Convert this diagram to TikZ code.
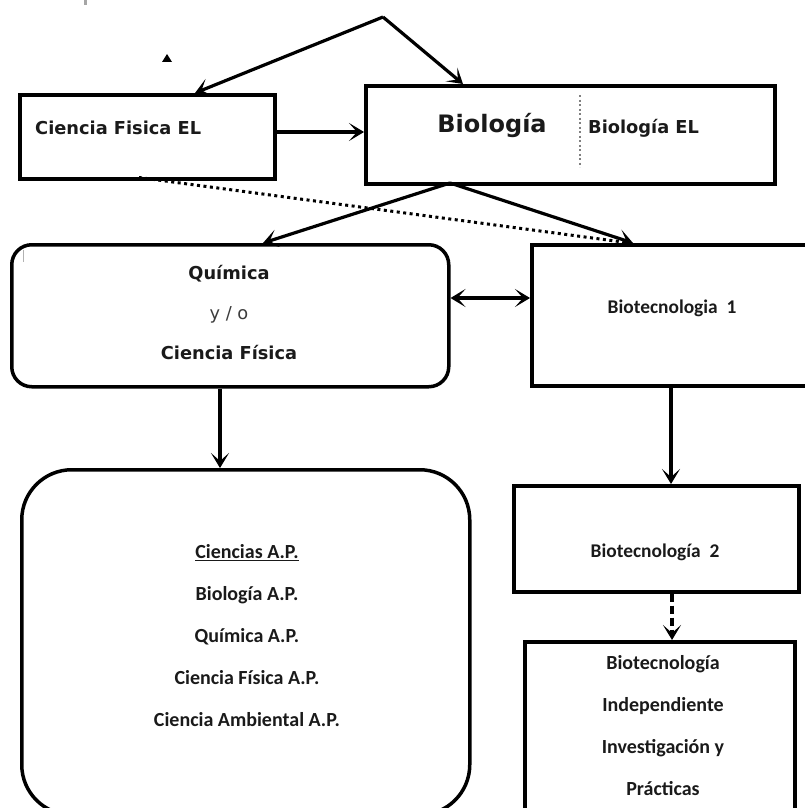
\documentclass[tikz,border=0pt]{standalone}
\usepackage{fontspec}
\setmainfont{DejaVu Sans}
\newfontfamily\djv{DejaVu Sans}
\newfontfamily\clb{Carlito}
\usetikzlibrary{arrows.meta,calc}
\definecolor{ink}{HTML}{1A1A1A}
\tikzset{
  box/.style={draw=black, line width=3.5pt, fill=none, inner sep=0pt, anchor=north west},
  lbl/.style={inner sep=0pt, text=ink, font=\djv\bfseries\fontsize{17.8}{20}\selectfont},
  cal/.style={inner sep=0pt, text=ink, align=center, font=\clb\bfseries\fontsize{20}{42}\selectfont},
  tip/.style={-{Stealth[length=15pt,width=18pt,inset=8pt]}},
  arr/.style={line width=3.2pt, tip},
  darr/.style={line width=3.2pt, {Stealth[length=15pt,width=18pt,inset=8pt]}-{Stealth[length=15pt,width=18pt,inset=8pt]}},
}
\begin{document}
\begin{tikzpicture}[x=1pt,y=-1pt]
\useasboundingbox (0,0) rectangle (805,808);
\clip (0,0) rectangle (805,808);
% small marks
\fill[gray!70] (84,0) rectangle (87,5);
\fill[black] (162,62) -- (172,62) -- (167,54) -- cycle;
% boxes
\node[box, minimum width=255pt, minimum height=84pt] (cfel) at (18,93) {};
\node[lbl, anchor=west] (cfeltxt) at (35,128) {Ciencia Fisica EL};
\node[box, minimum width=409pt, minimum height=98pt] (bio) at (364,84) {};
\node[inner sep=0pt, text=ink, font=\djv\bfseries\fontsize{24}{26}\selectfont] (biotxt) at (492,125) {Biología};
\node[lbl, anchor=west] (bioel) at (588,128) {Biología EL};
\coordinate (dtop) at (580,95);
\coordinate (dbot) at (580,167);
\draw[gray, line width=2.2pt, dash pattern=on 2pt off 2.5pt] (dtop) -- (dbot);
\node[box, rounded corners=20pt, minimum width=437pt, minimum height=142pt] (quim) at (10,243) {};
\node[inner sep=0pt, text=ink, align=center, font=\djv\fontsize{17.8}{40}\selectfont] (quimtxt) at (229,313)
  {\bfseries Química\\ {\color{ink!85}y / o}\\ \bfseries Ciencia Física};
\draw[gray!60, line width=1pt] (23,250) -- (23,262);
\node[box, minimum width=290pt, minimum height=141pt] (bt1) at (530,243) {};
\node[cal, font=\clb\bfseries\fontsize{19.4}{22}\selectfont] (bt1txt) at (672,308) {Biotecnologia\ \ 1};
\node[box, rounded corners=50pt, minimum width=448pt, minimum height=345pt] (ap) at (20,468) {};
\node[cal] (aptxt) at (247,636)
  {\underline{Ciencias A.P.}\\ Biología A.P.\\ Química A.P.\\ Ciencia Física A.P.\\ Ciencia Ambiental A.P.};
\node[box, minimum width=285pt, minimum height=106pt] (bt2) at (512,484) {};
\node[cal, font=\clb\bfseries\fontsize{19.4}{22}\selectfont] (bt2txt) at (655,552) {Biotecnología\ \ 2};
\node[box, minimum width=270pt, minimum height=190pt] (bt3) at (523,640) {};
\node[cal] (bt3txt) at (663,726)
  {Biotecnología\\ Independiente\\ Investigación y\\ Prácticas};
% connectors
\coordinate (apex) at (383,17);
\draw[arr] (apex) -- ([xshift=177pt]cfel.north west);
\draw[arr] (apex) -- ([xshift=99pt]bio.north west);
\draw[arr] (cfel.east |- 0,132) -- (bio.west |- 0,132);
\coordinate (vtx) at (450,183);
\draw[line width=3pt, dash pattern=on 3pt off 3.5pt] ([xshift=121pt,yshift=3pt]cfel.south west) -- ([xshift=100pt]bt1.north west);
\draw[arr] (vtx) -- ([xshift=253pt]quim.north west);
\draw[arr] (vtx) -- ([xshift=103pt]bt1.north west);
\draw[darr] (quim.east |- 0,298) -- (bt1.west |- 0,298);
\draw[arr] ([xshift=210pt]quim.south west) -- ([xshift=200pt]ap.north west);
\draw[arr] ([xshift=141pt]bt1.south west) -- ([xshift=159pt]bt2.north west);
\draw[arr, dash pattern=on 8pt off 4pt] ([xshift=160pt]bt2.south west) -- ([xshift=149pt]bt3.north west);
\end{tikzpicture}
\end{document}
